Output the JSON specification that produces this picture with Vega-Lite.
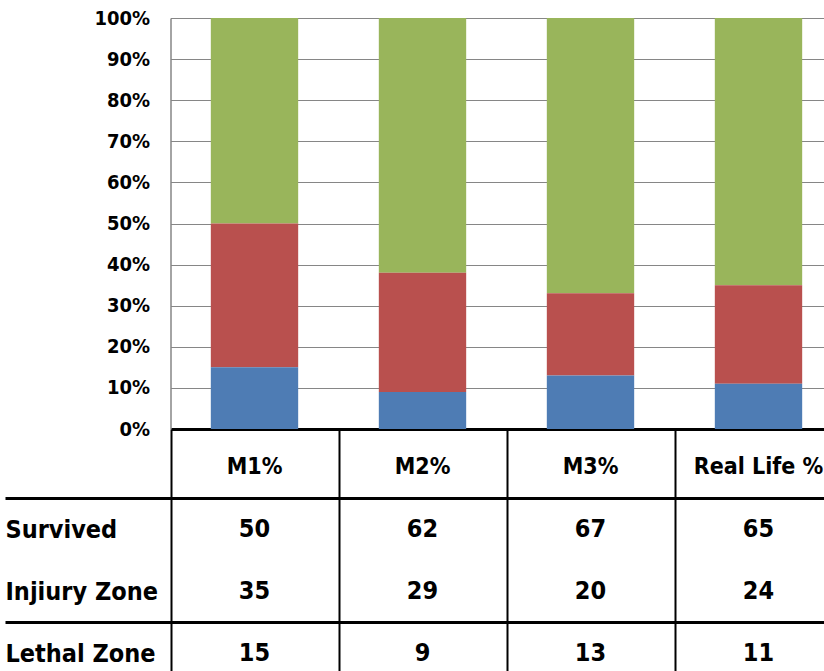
{
  "$schema": "https://vega.github.io/schema/vega-lite/v6.json",
  "width": 824,
  "height": 671,
  "autosize": {"type": "none"},
  "padding": 0,
  "background": "white",
  "config": {"view": {"stroke": null}, "font": "DejaVu Sans Condensed"},
  "data": {
    "values": [
      {"category": "M1%", "zone": "Survived", "value": 50},
      {"category": "M1%", "zone": "Injiury Zone", "value": 35},
      {"category": "M1%", "zone": "Lethal Zone", "value": 15},
      {"category": "M2%", "zone": "Survived", "value": 62},
      {"category": "M2%", "zone": "Injiury Zone", "value": 29},
      {"category": "M2%", "zone": "Lethal Zone", "value": 9},
      {"category": "M3%", "zone": "Survived", "value": 67},
      {"category": "M3%", "zone": "Injiury Zone", "value": 20},
      {"category": "M3%", "zone": "Lethal Zone", "value": 13},
      {"category": "Real Life %", "zone": "Survived", "value": 65},
      {"category": "Real Life %", "zone": "Injiury Zone", "value": 24},
      {"category": "Real Life %", "zone": "Lethal Zone", "value": 11}
    ]
  },
  "resolve": {"scale": {"y": "independent"}, "axis": {"y": "independent"}},
  "layer": [
    {
      "mark": {"type": "bar", "width": {"band": 0.52}},
      "encoding": {
        "x": {
          "field": "category", "type": "nominal",
          "scale": {"domain": ["M1%", "M2%", "M3%", "Real Life %"], "range": [170.5, 842.5], "paddingInner": 0, "paddingOuter": 0},
          "axis": {"orient": "bottom", "offset": -242, "title": null, "labels": false, "grid": false,
                   "domainColor": "black", "domainWidth": 3, "ticks": true, "tickBand": "extent",
                   "tickColor": "black", "tickWidth": 2, "tickSize": 260}
        },
        "y": {
          "field": "value", "type": "quantitative", "stack": "normalize",
          "scale": {"domain": [0, 1], "range": [429, 18], "nice": false},
          "axis": {"orient": "left", "offset": -170.5, "title": null,
                   "values": [0, 0.1, 0.2, 0.3, 0.4, 0.5, 0.6, 0.7, 0.8, 0.9, 1],
                   "format": ".0%", "grid": true, "gridColor": "#868686", "gridWidth": 1,
                   "domainColor": "#868686", "domainWidth": 1.5, "ticks": false,
                   "labelFont": "DejaVu Sans Condensed", "labelFontSize": 20, "labelFontWeight": "bold",
                   "labelColor": "black", "labelPadding": 21}
        },
        "color": {
          "field": "zone", "type": "nominal",
          "scale": {"domain": ["Survived", "Injiury Zone", "Lethal Zone"], "range": ["#99B55B", "#B9504E", "#4E7CB4"]},
          "legend": null
        },
        "order": {"field": "value", "type": "quantitative", "sort": "ascending"}
      }
    },
    {
      "layer": [
        {
          "mark": {"type": "text", "font": "DejaVu Sans Condensed", "fontSize": 25, "fontWeight": "bold", "color": "black"},
          "encoding": {
            "x": {"field": "category", "type": "nominal"},
            "y": {
              "field": "zone", "type": "nominal",
              "scale": {"domain": ["header", "Survived", "Injiury Zone", "Lethal Zone"], "range": [436, 684], "paddingInner": 0, "paddingOuter": 0},
              "axis": {"orient": "left", "offset": -5, "title": null, "domain": false, "grid": false,
                       "ticks": true, "tickBand": "extent", "tickSize": -819, "tickWidth": 3, "tickColor": "black",
                       "tickOpacity": {"condition": {"test": "datum.value === 'header' || datum.value === 'Injiury Zone'", "value": 1}, "value": 0},
                       "labelAlign": "left", "labelPadding": 819,
                       "labelExpr": "datum.value === 'header' ? '' : datum.label",
                       "labelFont": "DejaVu Sans Condensed", "labelFontSize": 25, "labelFontWeight": "bold", "labelColor": "black"}
            },
            "text": {"field": "value", "type": "quantitative"}
          }
        },
        {
          "transform": [{"filter": "datum.zone === 'Survived'"}],
          "mark": {"type": "text", "font": "DejaVu Sans Condensed", "fontSize": 23, "fontWeight": "bold", "color": "black"},
          "encoding": {
            "x": {"field": "category", "type": "nominal"},
            "y": {"datum": "header", "type": "nominal"},
            "text": {"field": "category", "type": "nominal"}
          }
        }
      ]
    }
  ]
}
